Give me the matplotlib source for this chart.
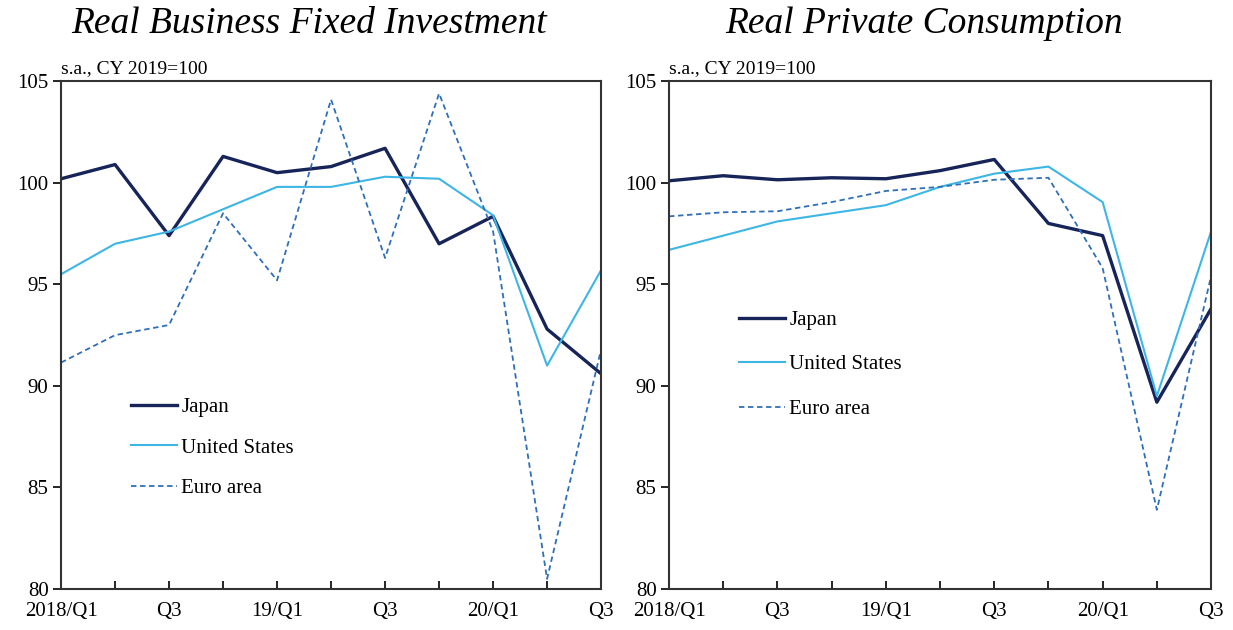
import matplotlib.pyplot as plt
import numpy as np

plt.rcParams['font.family'] = ['Liberation Serif', 'DejaVu Serif']

quarters = ['2018/Q1', '', 'Q3', '', '19/Q1', '', 'Q3', '', '20/Q1', '', 'Q3']

# Real business fixed investment (s.a., CY2019=100)
inv_japan = [100.2, 100.9, 97.4, 101.3, 100.5, 100.8, 101.7, 97.0, 98.35, 92.8, 90.6]
inv_us = [95.5, 97.0, 97.6, 98.7, 99.8, 99.8, 100.3, 100.2, 98.4, 91.0, 95.7]
inv_euro = [91.15, 92.5, 93.0, 98.5, 95.2, 104.1, 96.3, 104.4, 97.6, 80.5, 91.8]

# Real private consumption (s.a., CY2019=100)
con_japan = [100.1, 100.35, 100.15, 100.25, 100.2, 100.6, 101.15, 98.0, 97.4, 89.2, 93.8]
con_us = [96.7, 97.4, 98.1, 98.5, 98.9, 99.8, 100.45, 100.8, 99.05, 89.5, 97.6]
con_euro = [98.35, 98.55, 98.6, 99.05, 99.6, 99.8, 100.15, 100.25, 95.8, 83.9, 95.4]

c_japan = '#17245a'
c_us = '#3db6e6'
c_euro = '#2f6fb8'

fig = plt.figure(figsize=(12.33, 6.30), dpi=100)
ax1 = fig.add_axes([0.0495, 0.065, 0.438, 0.806])
ax2 = fig.add_axes([0.5426, 0.065, 0.4396, 0.806])

x = np.arange(len(quarters))

panels = [
    (ax1, inv_japan, inv_us, inv_euro, 'Real Business Fixed Investment', 0.251, (0.13, 0.278), 1.0),
    (ax2, con_japan, con_us, con_euro, 'Real Private Consumption', 0.749, (0.13, 0.442), 1.2),
]

for ax, jp, us, eu, title, tx, lpos, lspace in panels:
    ax.plot(x, jp, color=c_japan, lw=2.4, label='Japan')
    ax.plot(x, us, color=c_us, lw=1.5, label='United States')
    ax.plot(x, eu, color=c_euro, lw=1.3, ls=(0, (3, 2)), label='Euro area')
    ax.set_xlim(0, 10)
    ax.set_ylim(80, 105)
    ax.set_yticks(np.arange(80, 106, 5))
    ax.set_xticks(x)
    ax.set_xticklabels(quarters)
    ax.tick_params(axis='x', direction='in', length=6, width=1.2, labelsize=15, pad=9)
    ax.tick_params(axis='y', direction='out', length=6, width=1.2, labelsize=15, pad=3)
    for s in ax.spines.values():
        s.set_linewidth(1.5)
        s.set_color('#333333')
    ax.text(0.0, 1.008, 's.a., CY 2019=100', transform=ax.transAxes,
            ha='left', va='bottom', fontsize=14)
    fig.text(tx, 0.962, title, ha='center', va='center', fontsize=27, style='italic')
    ax.legend(loc='center left', bbox_to_anchor=lpos, frameon=False, fontsize=15,
              handlelength=2.2, handletextpad=0.2, labelspacing=lspace,
              borderaxespad=0, borderpad=0)

fig.savefig('out.png', dpi=100)
